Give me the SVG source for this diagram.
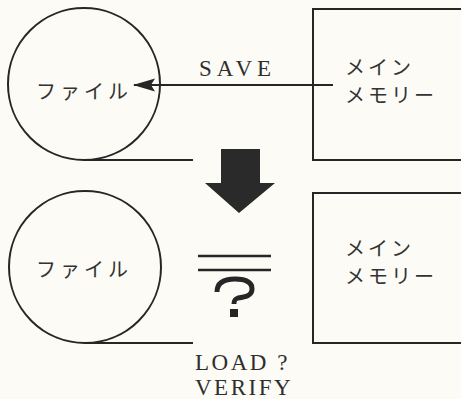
<svg xmlns="http://www.w3.org/2000/svg" width="461" height="399" viewBox="0 0 461 399">
  <style>
    .ln { fill: none; stroke: #262626; stroke-width: 2; }
    .jp { font-family: "Noto Sans CJK JP", sans-serif; font-size: 20px; fill: #333; letter-spacing: 3px; }
    .en { font-family: "Liberation Serif", serif; font-size: 23px; fill: #2e2e2e; letter-spacing: 2.5px; }
  </style>
  <defs>
    <marker id="ah" viewBox="0 0 22 14" refX="21" refY="7" markerWidth="22" markerHeight="14" markerUnits="userSpaceOnUse" orient="auto">
      <path d="M0,0.5 L22,7 L0,13.5 L4,7 Z" fill="#262626"/>
    </marker>
  </defs>
  <rect width="461" height="399" fill="#fcfbf6"/>

  <g id="file1">
    <circle class="ln" cx="84" cy="84" r="76"/>
    <line class="ln" x1="84" y1="160" x2="193" y2="160"/>
    <text class="jp" x="36" y="99" style="letter-spacing:4px">ファイル</text>
  </g>
  <g id="mem1">
    <path class="ln" d="M470,9 H313 V160 H470"/>
    <text class="jp" x="345" y="75">メイン</text>
    <text class="jp" x="345" y="103">メモリー</text>
  </g>

  <g id="connectors">
    <line class="ln" x1="333" y1="85" x2="134" y2="85" stroke-width="2.5" marker-end="url(#ah)"/>
    <text class="en" x="199" y="76" style="letter-spacing:5px">SAVE</text>
    <path d="M221,149 H260 V183 H275 L239,213 L205,183 H221 Z" fill="#2a2a2a"/>
  </g>

  <g id="file2">
    <circle class="ln" cx="85" cy="267" r="76"/>
    <line class="ln" x1="85" y1="343" x2="193" y2="343"/>
    <text class="jp" x="36" y="277" style="letter-spacing:4px">ファイル</text>
  </g>
  <g id="mem2">
    <path class="ln" d="M470,193 H313 V343 H470"/>
    <text class="jp" x="345" y="256">メイン</text>
    <text class="jp" x="345" y="284">メモリー</text>
  </g>

  <g id="compare">
    <line x1="198" y1="256" x2="271" y2="256" stroke="#262626" stroke-width="2.5"/>
    <line x1="198" y1="270" x2="271" y2="270" stroke="#262626" stroke-width="2.5"/>
    <path d="M217,292 C217,281 226,279 235,279 C246,279 252,282 252,289 C252,296 245,297 238,298 C235,299 234,300 234,304" fill="none" stroke="#262626" stroke-width="5" stroke-linecap="butt"/>
    <rect x="230" y="309" width="8" height="8" fill="#262626"/>
    <text class="en" x="195" y="370">LOAD ?</text>
    <text class="en" x="195" y="395">VERIFY</text>
  </g>
</svg>
